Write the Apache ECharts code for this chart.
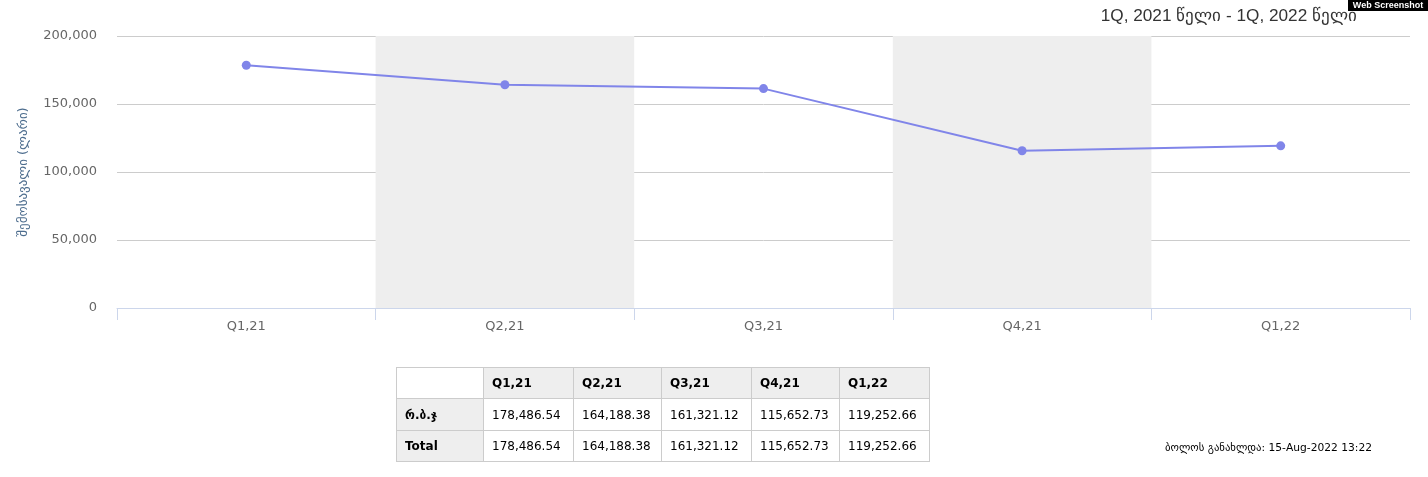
<!DOCTYPE html>
<html><head><meta charset="utf-8">
<script src="https://cdn.jsdelivr.net/npm/echarts@6/dist/echarts.min.js"></script>
<style>
html,body{margin:0;padding:0;background:#fff;}
#chart{position:absolute;left:0;top:0;width:1428px;height:477px;}
#tbl{position:absolute;left:396px;top:367px;border-collapse:collapse;font-family:"DejaVu Sans",sans-serif;font-size:12px;color:#000;}
#tbl td,#tbl th{border:1px solid #ccc;height:31px;padding:0 0 0 8px;text-align:left;box-sizing:border-box;}
#tbl tr.mid td,#tbl tr.mid th{height:32px;}
#tbl th{background:#eeeeee;font-weight:bold;}
#tbl th.blank{background:#fff;}
#upd{position:absolute;left:1165px;top:441px;font-family:"DejaVu Sans",sans-serif;font-size:10.7px;color:#000;white-space:nowrap;}
</style></head>
<body>
<div id="chart"></div>
<table id="tbl"></table>
<div id="upd">ბოლოს განახლდა: 15-Aug-2022 13:22</div>
<script>
const categories = ['Q1,21','Q2,21','Q3,21','Q4,21','Q1,22'];
const revenue = [178486.54, 164188.38, 161321.12, 115652.73, 119252.66];
const rowLabels = ['რ.ბ.ჯ','Total'];
const yTicks = [0, 50000, 100000, 150000, 200000];
const titleText = '1Q, 2021 წელი - 1Q, 2022 წელი';
const yName = 'შემოსავალი (ლარი)';

const fmt2 = v => v.toLocaleString('en-US',{minimumFractionDigits:2,maximumFractionDigits:2});
const colW = [87,90,88,90,88,90];
const tbl = document.getElementById('tbl');
let html = '<tr><th class="blank" style="width:'+colW[0]+'px"></th>' + categories.map((c,i)=>'<th style="width:'+colW[i+1]+'px">'+c+'</th>').join('') + '</tr>';
rowLabels.forEach((r,i)=>{
  html += '<tr'+(i===0?' class="mid"':'')+'><th>'+r+'</th>' + revenue.map(v=>'<td>'+fmt2(v)+'</td>').join('') + '</tr>';
});
tbl.innerHTML = html;

const chart = echarts.init(document.getElementById('chart'));
chart.setOption({
  animation:false,
  title:{text:titleText, right:66, top:3, textStyle:{fontFamily:'Liberation Sans, Arial', fontSize:17.2, fontWeight:'normal', color:'#333'}},
  graphic:[{type:'group', right:0, top:0, children:[
    {type:'rect', shape:{x:0,y:0,width:80,height:11}, style:{fill:'#000'}},
    {type:'text', x:40, y:6, style:{text:'Web Screenshot', fill:'#fff', font:'bold 9px "Liberation Sans", Arial', align:'center', verticalAlign:'middle'}}
  ]}],
  grid:{left:117, right:18, top:36, bottom:169},
  xAxis:{type:'category', data:categories, boundaryGap:true,
    axisLine:{lineStyle:{color:'#ccd6eb', width:1}},
    axisTick:{show:true, length:12, lineStyle:{color:'#ccd6eb'}},
    axisLabel:{color:'#666', fontFamily:'DejaVu Sans', fontSize:13, margin:12},
    splitArea:{show:true, areaStyle:{color:['rgba(0,0,0,0)','#eeeeee']}},
    splitLine:{show:false}
  },
  yAxis:{type:'value', min:yTicks[0], max:yTicks[yTicks.length-1], interval:50000,
    name:yName, nameLocation:'middle', nameGap:87, nameRotate:90,
    nameTextStyle:{color:'#4d6d8e', fontFamily:'DejaVu Sans', fontSize:13},
    axisLine:{show:false}, axisTick:{show:false},
    axisLabel:{color:'#666', fontFamily:'DejaVu Sans', fontSize:13, margin:20, formatter:v=>v.toLocaleString('en-US')},
    splitLine:{lineStyle:{color:'#cccccc', width:1}}
  },
  series:[{type:'line', data:revenue, color:'#8085e9',
    lineStyle:{width:2, color:'#8085e9'}, symbol:'circle', symbolSize:9,
    itemStyle:{color:'#8085e9'}}]
});
</script>
</body></html>
